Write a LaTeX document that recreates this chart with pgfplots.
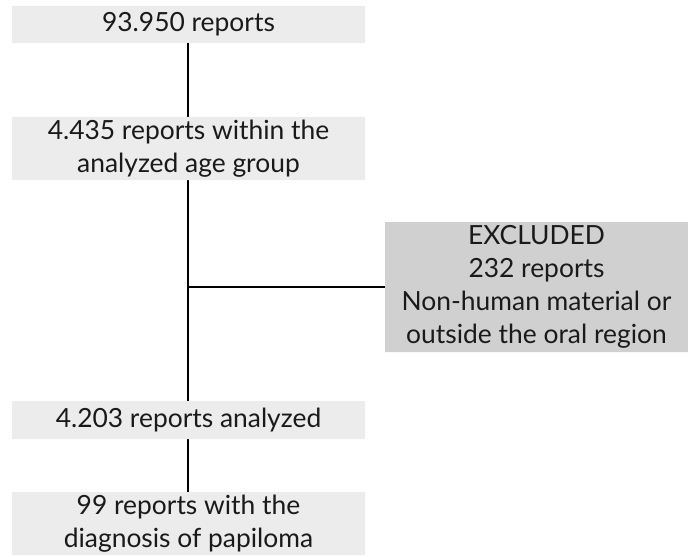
\documentclass[border=0pt]{standalone}
\usepackage{fontspec}
\setmainfont{Lato}
\usepackage{pgfplots}
\pgfplotsset{compat=1.18}

\definecolor{boxlight}{HTML}{ECECEC}
\definecolor{boxdark}{HTML}{D0D0D0}
\definecolor{txt}{HTML}{1A1A1A}

\tikzset{lbl/.style={text=txt, align=center, inner sep=0pt,
    font=\fontsize{13.2bp}{16.5bp}\selectfont}}

\begin{document}
\begin{tikzpicture}
\begin{axis}[
    width=344bp, height=278.5bp,
    scale only axis,
    xmin=0, xmax=688,
    ymin=0, ymax=557,
    y dir=reverse,
    hide axis,
    clip=false,
]
% frame so the page spans the whole picture
\path (axis cs:0,0) rectangle (axis cs:688,557);

% connector lines
\addplot[black, line width=0.9bp] coordinates {(188,43) (188,117)};
\addplot[black, line width=0.9bp] coordinates {(188,180) (188,401)};
\addplot[black, line width=0.9bp] coordinates {(188,287) (385,287)};
\addplot[black, line width=0.9bp] coordinates {(188,439) (188,492)};

% boxes
\addplot[fill=boxlight, draw=none] coordinates {(12,6) (365,6) (365,43) (12,43) (12,6)};
\addplot[fill=boxlight, draw=none] coordinates {(12,117) (365,117) (365,180) (12,180) (12,117)};
\addplot[fill=boxdark, draw=none] coordinates {(385,222) (688,222) (688,352) (385,352) (385,222)};
\addplot[fill=boxlight, draw=none] coordinates {(12,401) (365,401) (365,439) (12,439) (12,401)};
\addplot[fill=boxlight, draw=none] coordinates {(12,492) (365,492) (365,555) (12,555) (12,492)};

% labels
\node[lbl] at (axis cs:188.5,24.5) {93.950 reports};
\node[lbl] at (axis cs:188.5,148.5) {4.435 reports within the\\analyzed age group};
\node[lbl] at (axis cs:536.5,287) {EXCLUDED\\232 reports\\Non-human material or\\outside the oral region};
\node[lbl] at (axis cs:188.5,420) {4.203 reports analyzed};
\node[lbl] at (axis cs:188.5,523.5) {99 reports with the\\diagnosis of papiloma};
\end{axis}
\end{tikzpicture}
\end{document}
